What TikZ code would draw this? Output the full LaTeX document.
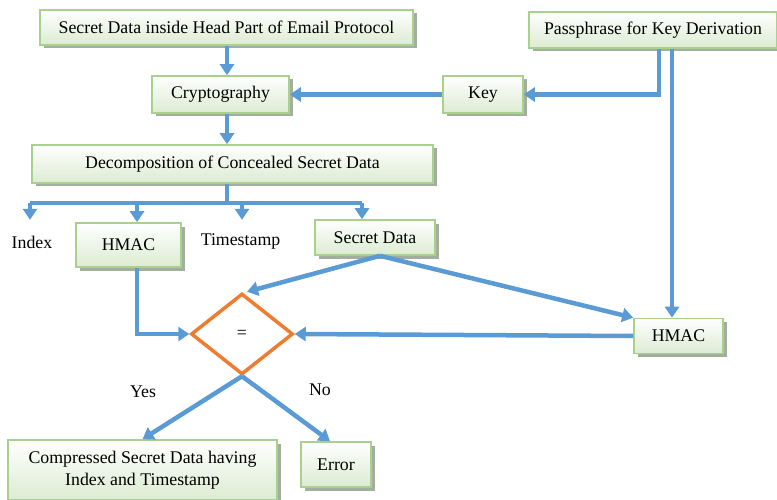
\documentclass[tikz,border=0pt]{standalone}
\usepackage{fontspec}
\setmainfont{Liberation Serif}
\usetikzlibrary{arrows.meta,calc,shapes.geometric,shadows}
\definecolor{flowblue}{HTML}{5B9BD5}
\definecolor{testorange}{HTML}{ED7D31}
\definecolor{boxgreen}{HTML}{A9D18E}
\definecolor{boxfill}{HTML}{DCEBD2}
\definecolor{boxshade}{HTML}{A3AE9C}

\begin{document}
\begin{tikzpicture}[x=1pt,y=-1pt,>={Triangle[width=14pt,length=11pt]},
  box/.style={draw=boxgreen,line width=1.6pt,top color=white,bottom color=boxfill,
    drop shadow={shadow xshift=3.5pt,shadow yshift=-3.5pt,fill=boxshade,opacity=1},
    inner sep=0pt,align=center,font=\fontsize{17.8}{22}\selectfont},
  plain/.style={inner sep=0pt,font=\fontsize{17.8}{22}\selectfont},
  flow/.style={draw=flowblue,line width=4.5pt},
  test/.style={diamond,draw=testorange,line width=3.5pt,inner sep=0pt,
    minimum width=102pt,minimum height=81pt,font=\fontsize{17.8}{22}\selectfont}]
  \useasboundingbox (0,0) rectangle (777,500);

  % --- boxes ---
  \node[box,minimum width=373pt,minimum height=35pt] (secret) at (226.5,27.5)
    {Secret Data inside Head Part of Email Protocol};
  \node[box,minimum width=248pt,minimum height=36pt] (pass) at (653,30)
    {Passphrase for Key Derivation};
  \node[box,minimum width=137pt,minimum height=37pt] (crypto) at (220.5,94.5) {Cryptography};
  \node[box,minimum width=80pt,minimum height=37pt] (key) at (483,94.5) {Key};
  \node[box,minimum width=401pt,minimum height=38pt] (decomp) at (232.5,164)
    {Decomposition of Concealed Secret Data};
  \node[plain,minimum height=44pt] (idx) at (32,242) {Index};
  \node[box,minimum width=105pt,minimum height=44pt] (hmacL) at (128.5,245) {HMAC};
  \node[plain,minimum height=44pt] (ts) at (240.5,242) {Timestamp};
  \node[box,minimum width=120pt,minimum height=35pt] (sdata) at (375,237.5) {Secret Data};
  \node[test] (eq) at (242,334) {=};
  \node[box,minimum width=89pt,minimum height=35pt] (hmacR) at (678.5,336) {HMAC};
  \node[box,minimum width=269pt,minimum height=60pt] (comp) at (142.5,470)
    {Compressed Secret Data having\\Index and Timestamp};
  \node[box,minimum width=70pt,minimum height=45pt] (err) at (336,464.5) {Error};
  \node[plain] (yes) at (143,392) {Yes};
  \node[plain] (no) at (320,390) {No};

  % --- main column ---
  \coordinate (spine) at (227,0);
  \draw[flow,->] (secret.south -| spine) -- (crypto.north -| spine);
  \draw[flow,->] (crypto.south -| spine) -- (decomp.north -| spine);

  % --- key derivation ---
  \coordinate (tapK) at ([xshift=6pt]pass.south);
  \coordinate (tapH) at ([xshift=19pt]pass.south);
  \draw[flow,->] (tapK) |- (key.east);
  \draw[flow,->] (key.west) -- (crypto.east);
  \draw[flow,->] (tapH) -- (tapH |- hmacR.north);

  % --- decomposition bus ---
  \draw[flow] (decomp.south -| spine) -- ++(0,20) coordinate (bus);
  \draw[flow] (30,203) -- (362,203);
  \foreach \x/\n in {30/idx,137/hmacL,242/ts,362/sdata}{
    \coordinate (drop) at (\x,203);
    \draw[flow,->] (drop) -- (drop |- \n.north);
  }

  % --- comparison ---
  \coordinate (sfoot) at ([xshift=5pt]sdata.south);
  \draw[flow,->] (sfoot) -- ([xshift=5pt]eq.north);
  \draw[flow,->] (sfoot) -- (hmacR.north west);
  \draw[flow,->] ([xshift=8.5pt]hmacL.south) |- (eq.west);
  \draw[flow,->] (hmacR.west) -- (eq.east);

  % --- outcome ---
  \draw[flow,->] (eq.south) -- (comp.north);
  \draw[flow,->] (eq.south) -- ([xshift=-6pt]err.north);
\end{tikzpicture}
\end{document}
